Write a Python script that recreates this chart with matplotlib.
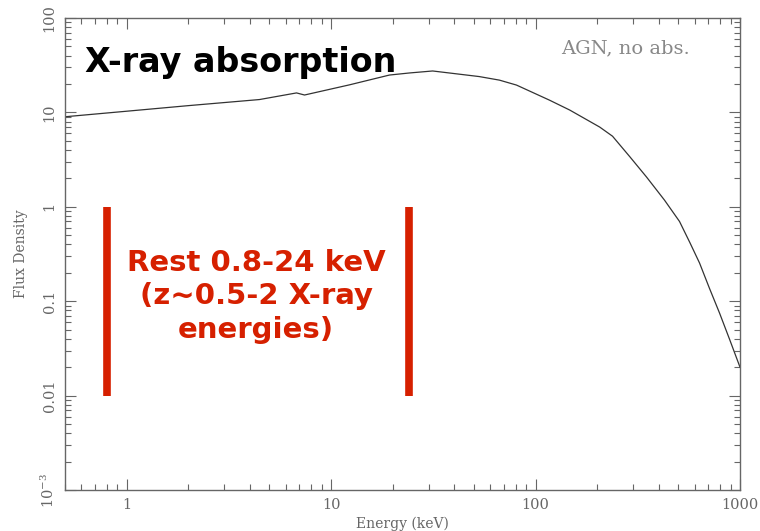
import matplotlib
matplotlib.use('Agg')
import matplotlib.pyplot as plt
from matplotlib.ticker import FixedLocator, LogLocator, NullFormatter

plt.rcParams['mathtext.fontset'] = 'dejavuserif'

energy = [0.5, 1.0, 2.0, 4.47, 6.78, 7.42, 12.3, 19.3, 24.2, 31.4, 46.0,
          53.0, 66.6, 80.7, 117.0, 147.0, 206.0, 238.0, 289.0, 349.0,
          427.0, 506.0, 568.0, 634.0, 708.0, 794.0, 891.0, 1000.0]
flux = [9.0, 10.3, 11.8, 13.7, 16.1, 15.3, 19.6, 24.9, 26.2, 27.5, 24.9,
        24.0, 22.0, 19.5, 13.5, 10.6, 7.0, 5.6, 3.4, 2.07,
        1.18, 0.70, 0.42, 0.254, 0.138, 0.075, 0.039, 0.020]

# rest-frame band marked in red
band_edges = [0.8, 24.0]
band_lo, band_hi = 0.01, 1.0

x_ticks = [1, 10, 100, 1000]
x_labels = ['1', '10', '100', '1000']
y_ticks = [1e-3, 0.01, 0.1, 1, 10, 100]
y_labels = [r'$10^{-3}$', '0.01', '0.1', '1', '10', '100']

grey = '#666666'
red = '#d62000'

fig = plt.figure(figsize=(7.6, 5.31), dpi=100)
ax = fig.add_axes([0.0855, 0.0772, 0.8882, 0.8888])

ax.plot(energy, flux, color='#333333', lw=0.9)

for e in band_edges:
    ax.vlines(e, band_lo, band_hi, color=red, lw=5.5)

ax.set_xscale('log')
ax.set_yscale('log')
ax.set_xlim(0.5, 1000)
ax.set_ylim(1e-3, 100)

ax.xaxis.set_major_locator(FixedLocator(x_ticks))
ax.set_xticklabels(x_labels)
ax.xaxis.set_minor_locator(LogLocator(base=10, subs=range(2, 10)))
ax.xaxis.set_minor_formatter(NullFormatter())
ax.yaxis.set_major_locator(FixedLocator(y_ticks))
ax.set_yticklabels(y_labels, rotation=90, va='center')
ax.yaxis.set_minor_locator(LogLocator(base=10, subs=range(2, 10)))
ax.yaxis.set_minor_formatter(NullFormatter())

ax.tick_params(which='both', direction='in', top=True, right=True,
               color=grey, width=0.8)
ax.tick_params(which='major', length=8, labelsize=10.5, labelcolor=grey, pad=6)
ax.tick_params(which='minor', length=4)
for lab in ax.get_xticklabels() + ax.get_yticklabels():
    lab.set_family('DejaVu Serif')
for s in ax.spines.values():
    s.set_color(grey)
    s.set_linewidth(1.0)

ax.set_xlabel('Energy (keV)', family='DejaVu Serif', fontsize=10, color=grey, labelpad=3)
ax.set_ylabel('Flux Density', family='DejaVu Serif', fontsize=10, color=grey, labelpad=8)

ax.text(0.735, 0.936, 'AGN, no abs.', transform=ax.transAxes, family='DejaVu Serif',
        fontsize=14, color='#888888', ha='left', va='center')
ax.text(0.03, 0.905, 'X-ray absorption', transform=ax.transAxes,
        family='DejaVu Sans', weight='bold', fontsize=24, color='black',
        ha='left', va='center')
ax.text(0.283, 0.411, 'Rest 0.8-24 keV\n(z~0.5-2 X-ray\nenergies)',
        transform=ax.transAxes, family='DejaVu Sans', weight='bold',
        fontsize=21, color=red, ha='center', va='center', linespacing=1.25)

fig.savefig('out.png', dpi=100)
